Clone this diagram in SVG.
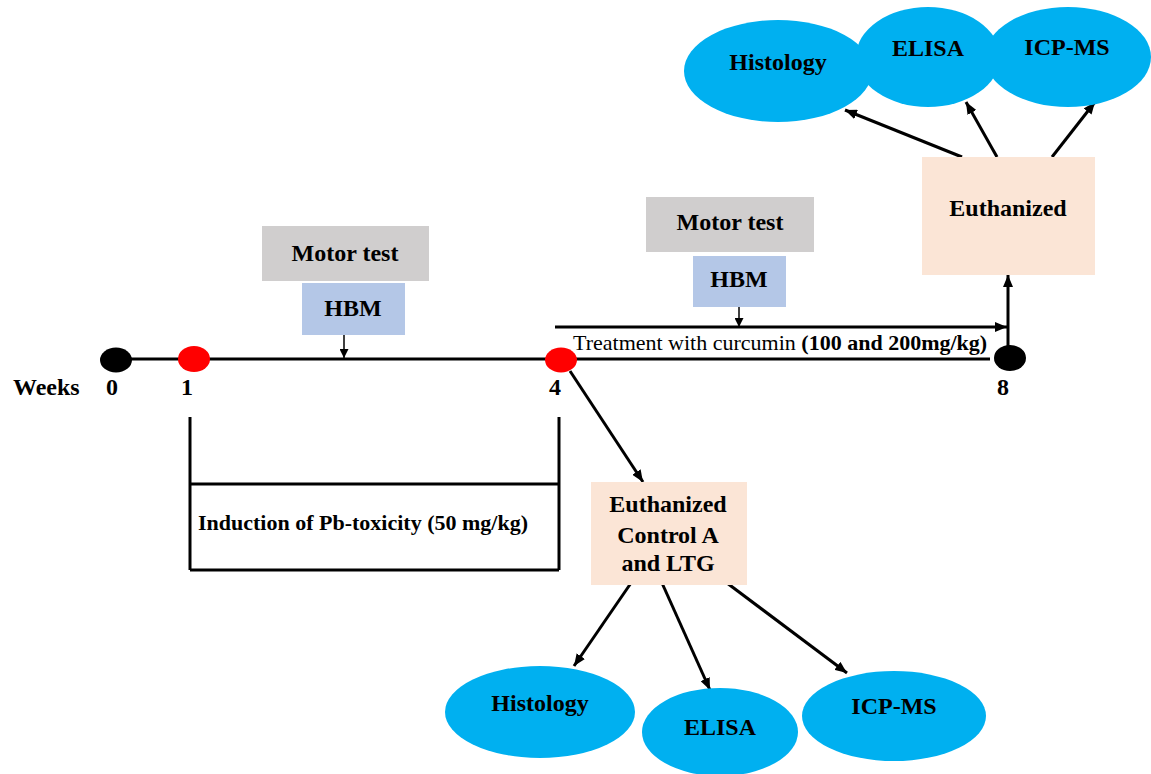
<svg xmlns="http://www.w3.org/2000/svg" width="1151" height="774" viewBox="0 0 1151 774">
<defs>
<marker id="ah" viewBox="0 0 12 10" refX="12" refY="5" markerWidth="12" markerHeight="10" markerUnits="userSpaceOnUse" orient="auto"><path d="M0,0 L12,5 L0,10 z" fill="#000"/></marker>
<marker id="ahs" viewBox="0 0 10 10" refX="10" refY="5" markerWidth="9" markerHeight="9" markerUnits="userSpaceOnUse" orient="auto"><path d="M0,0 L10,5 L0,10 z" fill="#000"/></marker>
<style>
text{font-family:"Liberation Serif","Times New Roman",serif;fill:#000}
.b{font-weight:bold;font-size:24px}
.m{font-weight:bold;font-size:22px}
.n{font-size:22px}
.ell{fill:#00B0F0}
.grey{fill:#D0CECE}
.blue{fill:#B4C7E7}
.peach{fill:#FBE5D6}
.ln{stroke:#000;stroke-width:3;fill:none}
.arr{stroke:#000;stroke-width:3;fill:none;marker-end:url(#ah)}
.arrs{stroke:#000;stroke-width:1.5;fill:none;marker-end:url(#ahs)}
</style>
</defs>
<rect width="1151" height="774" fill="#fff"/>

<g id="connectors">
<line class="ln" x1="116" y1="359" x2="561" y2="359"/>
<line class="ln" x1="561" y1="359" x2="990" y2="359"/>
<line class="arr" x1="555" y1="327" x2="1007" y2="327"/>
<line class="arr" x1="1008" y1="347" x2="1008" y2="275"/>
<line class="arrs" x1="344" y1="335" x2="344" y2="358"/>
<line class="arrs" x1="739" y1="306" x2="739" y2="327"/>
<line class="ln" x1="190" y1="417" x2="190" y2="570"/>
<line class="ln" x1="559" y1="417" x2="559" y2="570"/>
<line class="ln" x1="190" y1="484" x2="559" y2="484"/>
<line class="ln" x1="190" y1="570" x2="559" y2="570"/>
<line class="arr" x1="570" y1="371" x2="643" y2="482"/>
<line class="arr" x1="962" y1="157" x2="845" y2="110"/>
<line class="arr" x1="997" y1="157" x2="966" y2="102"/>
<line class="arr" x1="1052" y1="157" x2="1095" y2="102"/>
<line class="arr" x1="631" y1="583" x2="574" y2="666"/>
<line class="arr" x1="662" y1="583" x2="710" y2="690"/>
<line class="arr" x1="727" y1="583" x2="847" y2="673"/>
</g>

<g id="timeline-points">
<ellipse cx="116" cy="360" rx="16" ry="12.5" fill="#000"/>
<ellipse cx="194" cy="359" rx="16" ry="13" fill="#FF0000"/>
<ellipse cx="561" cy="360" rx="16" ry="12.5" fill="#FF0000"/>
<ellipse cx="1010" cy="358" rx="16" ry="13" fill="#000"/>
<text class="b" x="13" y="395">Weeks</text>
<text class="b" x="112" y="395" text-anchor="middle">0</text>
<text class="b" x="187" y="395" text-anchor="middle">1</text>
<text class="b" x="555" y="395" text-anchor="middle">4</text>
<text class="b" x="1003" y="395" text-anchor="middle">8</text>
</g>

<g id="treatment-label">
<text class="n" x="573" y="350">Treatment with curcumin <tspan font-weight="bold">(100 and 200mg/kg)</tspan></text>
</g>

<g id="induction">
<text class="m" x="198" y="530">Induction of Pb-toxicity (50 mg/kg)</text>
</g>

<g id="motor1">
<rect class="grey" x="262" y="226" width="167" height="55"/>
<text class="b" x="345" y="261" text-anchor="middle">Motor test</text>
</g>
<g id="hbm1">
<rect class="blue" x="302" y="283" width="103" height="52"/>
<text class="b" x="353" y="316" text-anchor="middle">HBM</text>
</g>

<g id="motor2">
<rect class="grey" x="646" y="197" width="168" height="55"/>
<text class="b" x="730" y="230" text-anchor="middle">Motor test</text>
</g>
<g id="hbm2">
<rect class="blue" x="693" y="256" width="93" height="51"/>
<text class="b" x="739" y="287" text-anchor="middle">HBM</text>
</g>

<g id="euthanized">
<rect class="peach" x="922" y="157" width="173" height="118"/>
<text class="b" x="1008" y="216" text-anchor="middle">Euthanized</text>
</g>

<g id="euthanized-control">
<rect class="peach" x="591" y="482" width="156" height="103"/>
<text class="b" x="668" y="512" text-anchor="middle">Euthanized</text>
<text class="b" x="668" y="543" text-anchor="middle">Control A</text>
<text class="b" x="668" y="571" text-anchor="middle">and LTG</text>
</g>

<g id="top-histology">
<ellipse class="ell" cx="778" cy="71" rx="94" ry="51"/>
<text class="b" x="778" y="70" text-anchor="middle">Histology</text>
</g>
<g id="top-elisa">
<ellipse class="ell" cx="928" cy="57" rx="72" ry="50"/>
<text class="b" x="928" y="56" text-anchor="middle">ELISA</text>
</g>
<g id="top-icpms">
<ellipse class="ell" cx="1068" cy="57" rx="83" ry="50"/>
<text class="b" x="1067" y="55" text-anchor="middle">ICP-MS</text>
</g>

<g id="bottom-histology">
<ellipse class="ell" cx="540" cy="712" rx="95" ry="46"/>
<text class="b" x="540" y="711" text-anchor="middle">Histology</text>
</g>
<g id="bottom-elisa">
<ellipse class="ell" cx="720" cy="732" rx="78" ry="44"/>
<text class="b" x="720" y="735" text-anchor="middle">ELISA</text>
</g>
<g id="bottom-icpms">
<ellipse class="ell" cx="894" cy="716" rx="92" ry="45"/>
<text class="b" x="894" y="714" text-anchor="middle">ICP-MS</text>
</g>
</svg>
